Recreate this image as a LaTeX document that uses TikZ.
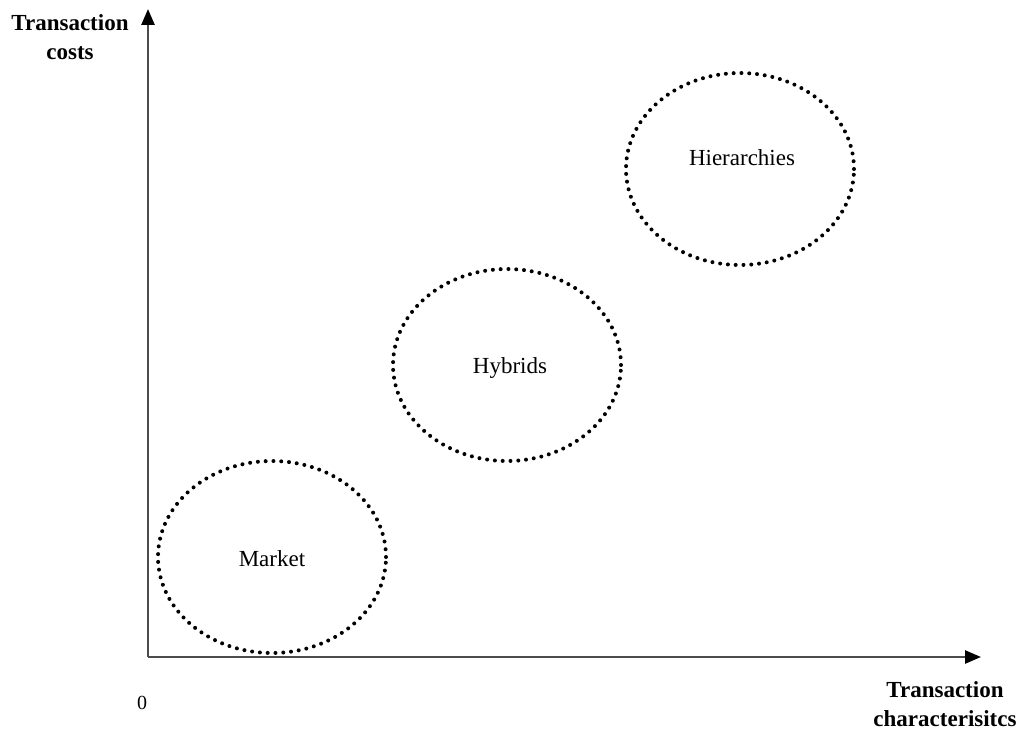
\documentclass[tikz,border=0pt]{standalone}
\usepackage{fontspec}
\setmainfont{Liberation Serif}
\usetikzlibrary{arrows.meta,shapes.geometric}
\begin{document}
\begin{tikzpicture}[x=1pt,y=-1pt,
  axis/.style={draw=black!70,line width=2.6pt,-{Triangle[length=16pt,width=13pt,color=black,fill=black]}},
  region/.style={ellipse,draw=black,line width=4pt,line cap=round,dash pattern=on 0pt off 7.8pt,minimum width=228pt,minimum height=192pt,inner sep=0pt,font=\fontsize{23}{26}\selectfont},
  axlabel/.style={font=\bfseries\fontsize{23}{29}\selectfont,align=center}]
\useasboundingbox (0,0) rectangle (1024,743);
\coordinate (o) at (148,657);
\coordinate (ytip) at (148,9);
\coordinate (xtip) at (981,657);
\draw[axis] (o) -- (ytip);
\draw[axis] (o) -- (xtip);
\node[region] (market) at (272,557) {};
\node[font=\fontsize{23}{26}\selectfont] (marketlbl) at (272,559) {Market};
\node[region] (hybrids) at (507,365) {};
\node[font=\fontsize{23}{26}\selectfont] (hybridslbl) at (510,368) {Hybrids};
\node[region] (hier) at (740,169) {};
\node[font=\fontsize{23}{26}\selectfont] (hierlbl) at (742,158) {Hierarchies};
\node[axlabel] (ylab) at (70,37) {Transaction\\costs};
\node[axlabel] (xlab) at (945,704) {Transaction\\characterisitcs};
\node[font=\fontsize{20}{22}\selectfont] (zero) at (142,703) {0};
\end{tikzpicture}
\end{document}
